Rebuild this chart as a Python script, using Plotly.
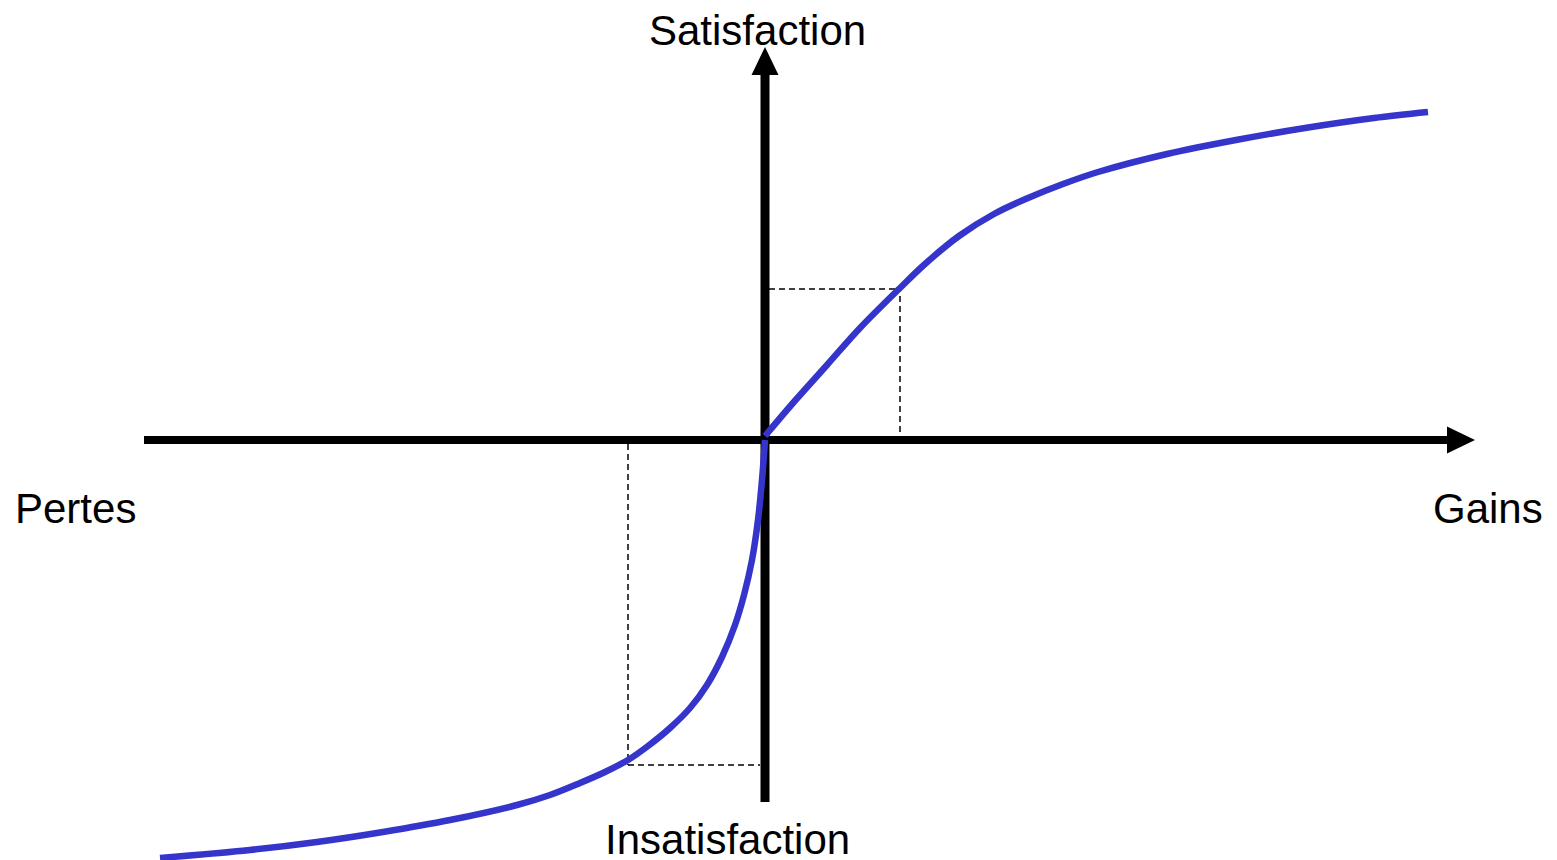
import plotly.graph_objects as go

# --- fonction de valeur : origine = point de reference ---
# branche des pertes (x < 0)
loss_x = [-605, -515, -448, -382, -315, -248, -215, -185, -160, -137, -117, -95,
          -75, -58, -43, -30, -21, -13, -7, -3, 0]
loss_y = [-418, -410, -402, -392, -380, -365, -355, -343, -332, -320, -306, -288,
          -268, -245, -217, -185, -155, -120, -80, -40, 0]

# branche des gains (x > 0)
gain_x = [0, 28, 62, 95, 135, 160, 194, 229, 263, 298, 333, 402, 471, 540, 609, 663]
gain_y = [4, 37, 75, 112, 152, 176, 204, 226, 242, 256, 268, 286, 300, 312, 322, 328]

# points de lecture en pointilles
loss_ref = (-137, -325)
gain_ref = (135, 151)

# etendue des axes dessines
x_axis = (-621, 710)
y_axis = (-362, 393)
head_len = 28
head_half = 13.5

labels = {
    'top': 'Satisfaction',
    'bottom': 'Insatisfaction',
    'left': 'Pertes',
    'right': 'Gains',
}

BLUE = '#3535CC'
FONT = dict(family='Liberation Sans, Arial, sans-serif', size=42, color='black')

fig = go.Figure()

fig.add_trace(go.Scatter(x=loss_x, y=loss_y, mode='lines', line_shape='spline',
                         line=dict(color=BLUE, width=6.5), hoverinfo='skip'))
fig.add_trace(go.Scatter(x=gain_x, y=gain_y, mode='lines', line_shape='spline',
                         line=dict(color=BLUE, width=6.5), hoverinfo='skip'))

shapes = []
# axe horizontal + fleche
shapes.append(dict(type='line', x0=x_axis[0], x1=x_axis[1] - head_len + 2, y0=0, y1=0,
                   line=dict(color='black', width=8), layer='below'))
shapes.append(dict(type='path', layer='below', fillcolor='black', line=dict(width=0),
                   path=f'M {x_axis[1] - head_len},{-head_half} L {x_axis[1]},0 '
                        f'L {x_axis[1] - head_len},{head_half} Z'))
# axe vertical + fleche
shapes.append(dict(type='line', x0=0, x1=0, y0=y_axis[0], y1=y_axis[1] - head_len + 2,
                   line=dict(color='black', width=9), layer='below'))
shapes.append(dict(type='path', layer='below', fillcolor='black', line=dict(width=0),
                   path=f'M {-head_half},{y_axis[1] - head_len} L 0,{y_axis[1]} '
                        f'L {head_half},{y_axis[1] - head_len} Z'))

# pointilles
dash = dict(color='black', width=1.5, dash='6px,4px')
shapes.append(dict(type='line', x0=loss_ref[0], x1=loss_ref[0], y0=-4, y1=loss_ref[1], line=dash, layer='below'))
shapes.append(dict(type='line', x0=loss_ref[0], x1=-5, y0=loss_ref[1], y1=loss_ref[1], line=dash, layer='below'))
shapes.append(dict(type='line', x0=gain_ref[0], x1=gain_ref[0], y0=8, y1=gain_ref[1], line=dash, layer='below'))
shapes.append(dict(type='line', x0=4, x1=gain_ref[0], y0=gain_ref[1], y1=gain_ref[1], line=dash, layer='below'))

annotations = [
    dict(x=-8, y=410, text=labels['top'], showarrow=False, xanchor='center', yanchor='middle', font=FONT),
    dict(x=-38, y=-399, text=labels['bottom'], showarrow=False, xanchor='center', yanchor='middle', font=FONT),
    dict(x=-752, y=-68, text=labels['left'], showarrow=False, xanchor='left', yanchor='middle', font=FONT),
    dict(x=780, y=-68, text=labels['right'], showarrow=False, xanchor='right', yanchor='middle', font=FONT),
]

fig.update_layout(
    width=1557, height=860,
    margin=dict(l=0, r=0, t=0, b=0),
    paper_bgcolor='white', plot_bgcolor='white',
    showlegend=False,
    xaxis=dict(visible=False, range=[-765, 792], fixedrange=True),
    yaxis=dict(visible=False, range=[-420, 440], fixedrange=True),
    shapes=shapes,
    annotations=annotations,
)

# la marge par defaut du <body> decale la figure de 8 px
fig.write_html("out.html", config={'displayModeBar': False},
               post_script="document.body.style.margin='0';")
